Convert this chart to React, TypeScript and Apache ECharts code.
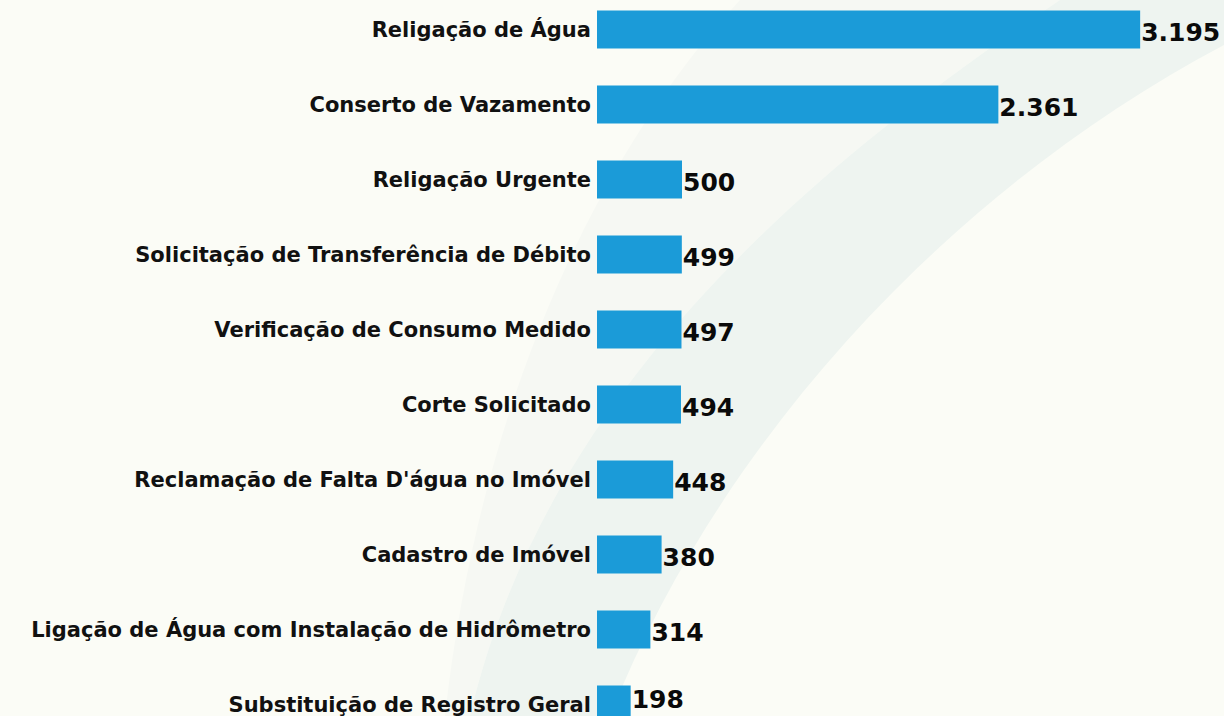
import React, { useEffect, useRef } from "react";
import * as echarts from "echarts";

const categories = [
  "Religação de Água",
  "Conserto de Vazamento",
  "Religação Urgente",
  "Solicitação de Transferência de Débito",
  "Verificação de Consumo Medido",
  "Corte Solicitado",
  "Reclamação de Falta D'água no Imóvel",
  "Cadastro de Imóvel",
  "Ligação de Água com Instalação de Hidrômetro",
  "Substituição de Registro Geral",
];
const values = [3195, 2361, 500, 499, 497, 494, 448, 380, 314, 198];

const bandPath =
  "M 470 716 C 540 420 760 200 1060 0 L 1224 0 L 1224 45 C 950 190 720 440 610 716 Z";
const lightPath =
  "M 445 716 C 480 400 600 150 740 0 L 1060 0 C 760 200 540 420 470 716 Z";

echarts.graphic.registerShape("bgBand", echarts.graphic.extendPath(bandPath, {}) as any);
echarts.graphic.registerShape("bgLight", echarts.graphic.extendPath(lightPath, {}) as any);

function fmt(v: number): string {
  return String(v).replace(/\B(?=(\d{3})+(?!\d))/g, ".");
}

const SHIFT = 8;

export default function App() {
  const ref = useRef<HTMLDivElement>(null);
  useEffect(() => {
    if (!ref.current) return;
    const chart = echarts.init(ref.current, null, { renderer: "svg" });
    const seriesData = values.map((v, i) =>
      i === values.length - 1
        ? { value: v, label: { offset: [0, -5] } }
        : { value: v }
    );
    chart.setOption({
      animation: false,
      backgroundColor: "#fbfcf6",
      graphic: [
        { type: "bgLight", x: 0, y: SHIFT, z: -10, silent: true, style: { fill: "#f6f8f3" } },
        { type: "bgBand", x: 0, y: SHIFT, z: -10, silent: true, style: { fill: "#eef4f0" } },
      ],
      grid: { left: 597, right: 15, top: 0, bottom: 0, containLabel: false },
      xAxis: {
        type: "value",
        min: 0,
        max: 3600,
        show: false,
        splitLine: { show: false },
      },
      yAxis: {
        type: "category",
        inverse: true,
        data: categories,
        axisLine: { show: false },
        axisTick: { show: false },
        axisLabel: {
          margin: 6,
          fontFamily: "DejaVu Sans",
          fontWeight: "bold",
          fontSize: 21,
          color: "#111111",
        },
      },
      series: [
        {
          type: "bar",
          data: seriesData,
          barWidth: 38,
          itemStyle: { color: "#1b9bd8" },
          label: {
            show: true,
            position: "right",
            distance: 1,
            offset: [0, 3],
            fontFamily: "DejaVu Sans",
            fontWeight: "bold",
            fontSize: 25,
            color: "#0a0a0a",
            formatter: (p: any) => fmt(p.value),
          },
        },
      ],
    });
    return () => chart.dispose();
  }, []);
  return (
    <div
      ref={ref}
      style={{ position: "fixed", left: 0, top: -SHIFT, width: 1224, height: 750 }}
    />
  );
}
